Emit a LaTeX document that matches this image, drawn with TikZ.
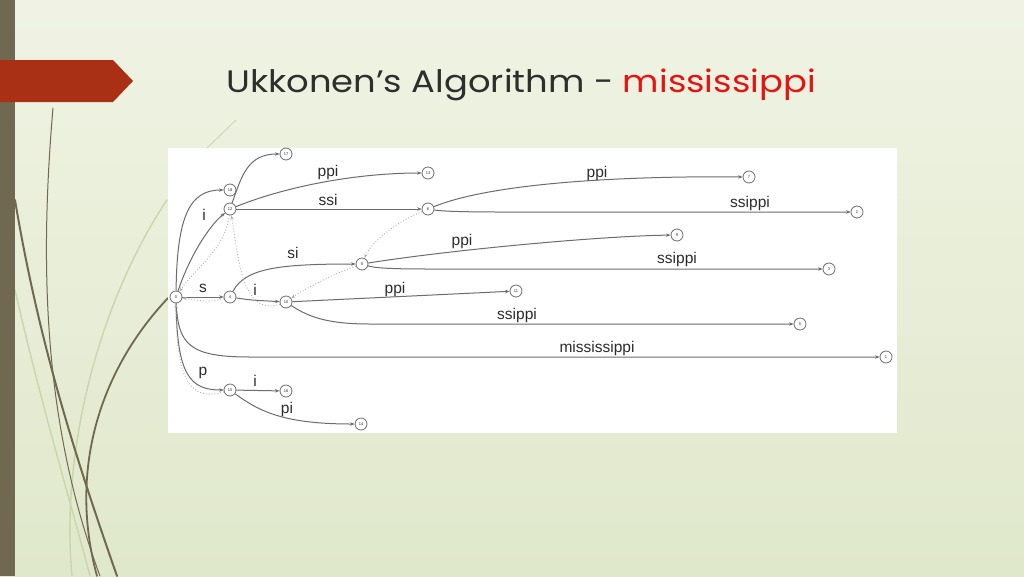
\documentclass[tikz,border=0pt]{standalone}
\usepackage{fontspec}
\setmainfont{Liberation Sans}
\newfontfamily\titlefont{Poppins}
\usetikzlibrary{arrows.meta}
\definecolor{bgtop}{HTML}{F0F3E4}
\definecolor{bgbot}{HTML}{E0E8CB}
\definecolor{barbrown}{HTML}{706850}
\definecolor{flagred}{HTML}{A92F15}
\definecolor{palegreen}{HTML}{C9D5AA}
\definecolor{titlegray}{HTML}{2E2E2E}
\definecolor{titlered}{HTML}{E21414}
\definecolor{edgegray}{HTML}{6C6C6C}
\definecolor{linkgray}{HTML}{B0B0B0}
\definecolor{labgray}{HTML}{2C2C2C}
\tikzset{
  st/.style={circle,draw=edgegray,line width=0.8pt,fill=white,minimum size=12pt,inner sep=0pt,
    font=\fontsize{4}{4}\selectfont,text=labgray},
  tedge/.style={draw=edgegray,line width=1pt,-{Stealth[length=4.5pt,width=3.4pt]}},
  slink/.style={draw=linkgray,line width=0.9pt,dotted,-{Stealth[length=4.5pt,width=3.4pt]}},
  elab/.style={font=\fontsize{15.5}{16}\selectfont,text=labgray,inner sep=0pt},
  deco/.style={draw=barbrown,line cap=round},
  pale/.style={draw=palegreen,line width=1.4pt,line cap=round}
}
\begin{document}
\begin{tikzpicture}[x=1pt,y=-1pt]
\useasboundingbox (0,0) rectangle (1024,576);
% background
\shade[top color=bgtop,bottom color=bgbot] (0,0) rectangle (1024,576);
% decorative curves
\draw[pale] (167,200) .. controls (100,300) and (60,450) .. (72,576);
\draw[pale] (15,290) .. controls (40,400) and (70,500) .. (90,576);
\draw[pale,line width=0.8pt] (236,120) -- (205,150);
\draw[deco,line width=1pt] (53,108) .. controls (40,260) and (42,420) .. (100,576);
\draw[deco,line width=2pt] (15,200) .. controls (40,350) and (80,470) .. (117,576);
\draw[deco,line width=1.8pt] (168,298) .. controls (100,370) and (68,470) .. (97,576);
% left bar
\fill[barbrown] (0,0) rectangle (15,576);
% red flag
\fill[flagred] (0,60) -- (113,60) -- (133,81) -- (113,102) -- (0,102) -- cycle;
% title
\node[anchor=base west,inner sep=0pt,xscale=1.14,font=\titlefont\fontsize{31}{36}\selectfont] (title) at (226,92)
  {\textcolor{titlegray}{Ukkonen’s Algorithm - }\textcolor{titlered}{mississippi}};
% white panel
\fill[white] (168,148) rectangle (897,433);
% states
\node[st] (n0) at (176,297) {0};
\node[st] (n18) at (230,190) {18};
\node[st] (n12) at (230,209) {12};
\node[st] (n17) at (286,154) {17};
\node[st] (n13) at (428,173) {13};
\node[st] (n6) at (428,209) {6};
\node[st] (n7) at (749,177) {7};
\node[st] (n2) at (857,212) {2};
\node[st] (n8) at (362,264) {8};
\node[st] (n9) at (677,235) {9};
\node[st] (n3) at (829,269) {3};
\node[st] (n4) at (230,297) {4};
\node[st] (n10) at (286,302) {10};
\node[st] (n11) at (516,291) {11};
\node[st] (n5) at (800,324) {5};
\node[st] (n1) at (886,357) {1};
\node[st] (n15) at (230,390) {15};
\node[st] (n16) at (286,391) {16};
\node[st] (n14) at (361,424) {14};
\coordinate (m1) at (250,357);
\coordinate (m5) at (370,324);
\coordinate (m2) at (500,212);
\coordinate (m3) at (430,269);
% tree edges
\draw[tedge] (n0) .. controls (177,215) and (190,190) .. (n18);
\draw[tedge] (n0) .. controls (190,255) and (210,225) .. (n12);
\draw[tedge] (n12) .. controls (242,175) and (248,154) .. (n17);
\draw[tedge] (n12) .. controls (290,185) and (360,173) .. (n13);
\draw[tedge] (n12) -- (n6);
\draw[tedge] (n6) .. controls (500,180) and (650,176) .. (n7);
\draw[tedge] (n6) .. controls (440,211) and (460,212) .. (m2) -- (n2);
\draw[tedge] (n4) .. controls (245,268) and (280,264) .. (n8);
\draw[tedge] (n8) .. controls (450,250) and (600,236) .. (n9);
\draw[tedge] (n8) .. controls (375,268) and (390,269) .. (m3) -- (n3);
\draw[tedge] (n0) -- (n4);
\draw[tedge] (n4) .. controls (250,300) .. (n10);
\draw[tedge] (n10) -- (n11);
\draw[tedge] (n10) .. controls (310,318) and (330,324) .. (m5) -- (n5);
\draw[tedge] (n0) .. controls (178,345) and (190,357) .. (m1) -- (n1);
\draw[tedge] (n0) .. controls (177,375) and (190,390) .. (n15);
\draw[tedge] (n15) -- (n16);
\draw[tedge] (n15) .. controls (260,412) and (285,424) .. (n14);
% suffix links
\draw[slink] (n12) .. controls (225,250) and (195,268) .. (n0);
\draw[slink] (n10) .. controls (240,318) and (238,250) .. (n12);
\draw[slink] (n4) .. controls (210,302) .. (n0);
\draw[slink] (n6) .. controls (390,225) and (370,245) .. (n8);
\draw[slink] (n8) .. controls (330,275) and (300,292) .. (n10);
\draw[slink] (n15) .. controls (190,402) and (176,380) .. (n0);
% edge labels
\node[elab] (l1) at (204,215) {i};
\node[elab] (l2) at (328,172) {ppi};
\node[elab] (l3) at (328,200) {ssi};
\node[elab] (l4) at (597,173) {ppi};
\node[elab] (l5) at (750,203) {ssippi};
\node[elab] (l6) at (293,253) {si};
\node[elab] (l7) at (462,241) {ppi};
\node[elab] (l8) at (677,259) {ssippi};
\node[elab] (l9) at (203,288) {s};
\node[elab] (l10) at (255,290) {i};
\node[elab] (l11) at (395,289) {ppi};
\node[elab] (l12) at (517,315) {ssippi};
\node[elab] (l13) at (597,348) {mississippi};
\node[elab] (l14) at (203,373) {p};
\node[elab] (l15) at (255,381) {i};
\node[elab] (l16) at (287,409) {pi};
\end{tikzpicture}
\end{document}
